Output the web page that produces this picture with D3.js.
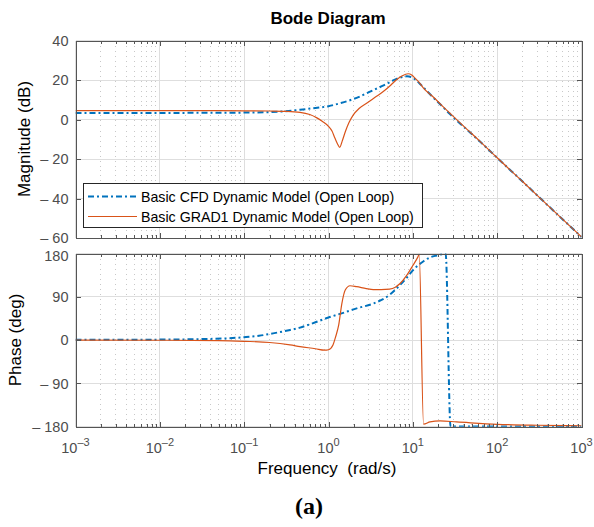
<!DOCTYPE html>
<html>
<head>
<meta charset="utf-8">
<script src="https://cdn.jsdelivr.net/npm/d3@7"></script>
<style>
  html, body { margin: 0; padding: 0; background: #fff; }
  svg { display: block; }
  text { font-family: "Liberation Sans", Arial, Helvetica, sans-serif; }
  text.serif { font-family: "Liberation Serif", "DejaVu Serif", serif; }
</style>
</head>
<body>
<svg id="chart" width="594" height="527"></svg>
<script>
// ---------------- data ----------------
const seriesNames = ["Basic CFD Dynamic Model (Open Loop)", "Basic GRAD1 Dynamic Model (Open Loop)"];

const magFreqCFD = [0.001, 0.01, 0.05, 0.1, 0.2, 0.3, 0.46, 0.7, 1, 1.4, 1.8, 2.3, 2.86, 3.6, 4.5, 5.5, 6.4, 7.5, 8.5, 9.7, 11, 12.2, 14, 17.6, 22, 27.6, 43.6, 63, 100, 200, 500, 1000];
const magCFD     = [3.4, 3.4, 3.45, 3.55, 3.8, 4.2, 5.0, 5.9, 6.8, 8.4, 9.8, 11.5, 13.4, 15.4, 17.3, 19.2, 20.6, 21.5, 21.9, 21.4, 19.9, 18.0, 15.4, 11.0, 7.0, 2.8, -5.0, -11.2, -19.3, -31.3, -47.3, -59.3];

const magFreqGRAD = [0.001, 0.01, 0.05, 0.1, 0.2, 0.3, 0.46, 0.6, 0.72, 0.85, 1, 1.1, 1.19, 1.28, 1.36, 1.45, 1.59, 1.75, 1.96, 2.3, 2.86, 3.6, 4.5, 5.5, 6.4, 7.5, 8.8, 9.7, 10.6, 12, 13.3, 17.6, 22, 27.6, 43.6, 63, 100, 200, 500, 1000];
const magGRAD     = [4.5, 4.5, 4.5, 4.45, 4.35, 4.2, 3.7, 2.6, 1.0, -1.0, -3.4, -5.8, -9.3, -12.3, -14.0, -11.0, -5.9, -1.5, 2.3, 5.6, 8.4, 11.4, 14.3, 17.5, 20.2, 22.2, 23.2, 22.6, 21.0, 18.6, 16.0, 11.3, 7.2, 3.2, -4.8, -11.1, -19.3, -31.3, -47.3, -59.3];

const phFreqCFD = [0.001, 0.01, 0.03, 0.06, 0.1, 0.15, 0.22, 0.35, 0.46, 0.7, 1, 1.4, 2.16, 3.4, 5.3, 7, 8.5, 10, 13.4, 16, 19.2, 22, 24.5, 28, 50, 100, 300, 1000];
const phCFD     = [0.5, 1, 2, 3.5, 6, 9, 14, 21, 26, 37, 47, 55, 66, 76, 94, 114, 130, 145, 164, 172, 176, 178.5, 179.5, -179.5, -179.6, -179.7, -179.8, -179.9];

const phFreqGRAD = [0.001, 0.01, 0.05, 0.1, 0.2, 0.35, 0.46, 0.7, 0.9, 1.0, 1.13, 1.22, 1.32, 1.44, 1.58, 1.8, 2.16, 2.8, 3.4, 4.2, 5.3, 6.2, 7, 8.5, 10, 11.5, 11.9, 13.4, 16, 21, 33, 100, 300, 1000];
const phGRAD     = [0, -0.3, -1, -2.5, -5, -10, -13.5, -18, -21, -20, -10, 8, 31, 76, 104, 113, 111, 107, 105, 105, 106, 110, 117, 135, 155, 173, 178.5, -174.5, -170, -168, -170, -175, -177, -178];

const xTickExps  = [-3, -2, -1, 0, 1, 2, 3];
const magTicks   = [40, 20, 0, -20, -40, -60];
const phaseTicks = [180, 90, 0, -90, -180];

const titleText = "Bode Diagram";
const magLabel = "Magnitude (dB)";
const phaseLabel = "Phase (deg)";
const xLabel = "Frequency\u00A0 (rad/s)";
const panelLabel = "(a)";

// ---------------- layout ----------------
const colors = ["#0072BD", "#D95319"];
const L = 75.5, R = 581.5;
const magTop = 40.5, magBot = 238.3;
const phTop = 253.5, phBot = 426.7;

const svg = d3.select("#chart");
const x = d3.scaleLog().domain([1e-3, 1e3]).range([L, R]);
const yMag = d3.scaleLinear().domain([-60, 40]).range([magBot, magTop]);
const yPh = d3.scaleLinear().domain([-180, 180]).range([phBot, phTop]);

const minorVals = [];
xTickExps.slice(0, -1).forEach(e => { for (let k = 2; k <= 9; k++) minorVals.push(k * Math.pow(10, e)); });
const majorVals = xTickExps.map(e => Math.pow(10, e));

function fmtY(v) { return v < 0 ? "\u2013 " + Math.abs(v) : String(v); }

function panel(id, y, ticks, top, bot) {
  const g = svg.append("g");
  svg.append("clipPath").attr("id", id).append("rect")
    .attr("x", L).attr("y", top).attr("width", R - L).attr("height", bot - top);
  g.selectAll(".mg").data(minorVals).enter().append("line")
    .attr("x1", d => x(d)).attr("x2", d => x(d)).attr("y1", top).attr("y2", bot)
    .attr("stroke", "#c8c8c8").attr("stroke-width", 1).attr("stroke-dasharray", "1,4")
    .attr("shape-rendering", "crispEdges");
  g.selectAll(".Mg").data(majorVals).enter().append("line")
    .attr("x1", d => x(d)).attr("x2", d => x(d)).attr("y1", top).attr("y2", bot)
    .attr("stroke", "#dedede").attr("stroke-width", 1).attr("shape-rendering", "crispEdges");
  g.selectAll(".hg").data(ticks).enter().append("line")
    .attr("x1", L).attr("x2", R).attr("y1", d => y(d)).attr("y2", d => y(d))
    .attr("stroke", "#dedede").attr("stroke-width", 1).attr("shape-rendering", "crispEdges");
  return g;
}

function frame(y, ticks, top, bot, labelShift) {
  const g = svg.append("g");
  const axCol = "#555555";
  const axB = d3.axisBottom(x).tickValues(majorVals).tickSize(-5).tickFormat("");
  const axT = d3.axisTop(x).tickValues(majorVals).tickSize(-5).tickFormat("");
  const axBm = d3.axisBottom(x).tickValues(minorVals).tickSize(-3).tickFormat("");
  const axTm = d3.axisTop(x).tickValues(minorVals).tickSize(-3).tickFormat("");
  const axL = d3.axisLeft(y).tickValues(ticks).tickSize(-5).tickFormat("");
  const axR = d3.axisRight(y).tickValues(ticks).tickSize(-5).tickFormat("");
  [[axB, `translate(0,${bot})`], [axBm, `translate(0,${bot})`], [axT, `translate(0,${top})`], [axTm, `translate(0,${top})`],
   [axL, `translate(${L},0)`], [axR, `translate(${R},0)`]].forEach(([a, t]) => {
    const gg = g.append("g").attr("transform", t).call(a);
    gg.selectAll("path").attr("stroke", axCol).attr("shape-rendering", "crispEdges");
    gg.selectAll("line").attr("stroke", axCol).attr("shape-rendering", "crispEdges");
  });
  g.selectAll(".yl").data(ticks).enter().append("text")
    .attr("x", L - 7).attr("y", d => y(d) + (labelShift ? labelShift(d) : 0)).attr("dy", "0.36em")
    .attr("text-anchor", "end").attr("font-size", 14.5).attr("fill", "#4d4d4d")
    .text(fmtY);
}

function drawLine(clip, xs, ys, y, color, width, dash) {
  const pts = xs.map((f, i) => [f, ys[i]]);
  const line = d3.line().x(d => x(d[0])).y(d => y(d[1])).curve(d3.curveMonotoneX);
  svg.append("path").datum(pts)
    .attr("clip-path", `url(#${clip})`)
    .attr("d", line).attr("fill", "none")
    .attr("stroke", color).attr("stroke-width", width)
    .attr("stroke-dasharray", dash || null)
    .attr("stroke-linejoin", "round");
}

// magnitude panel
panel("clipMag", yMag, magTicks, magTop, magBot);
drawLine("clipMag", magFreqCFD, magCFD, yMag, colors[0], 2, "6,3,2,3");
drawLine("clipMag", magFreqGRAD, magGRAD, yMag, colors[1], 1.2);
frame(yMag, magTicks, magTop, magBot, d => (d === -60 ? -1 : 0));

// phase panel
panel("clipPh", yPh, phaseTicks, phTop, phBot);
drawLine("clipPh", phFreqCFD, phCFD, yPh, colors[0], 2, "6,3,2,3");
drawLine("clipPh", phFreqGRAD, phGRAD, yPh, colors[1], 1.2);
frame(yPh, phaseTicks, phTop, phBot, d => (d === 180 ? 2 : 0));

// x tick labels (10^n)
const xl = svg.append("g");
xTickExps.forEach(e => {
  const t = xl.append("text").attr("x", x(Math.pow(10, e))).attr("y", 453)
    .attr("text-anchor", "middle").attr("font-size", 14.5).attr("fill", "#4d4d4d");
  t.append("tspan").text("10");
  t.append("tspan").attr("dy", -7).attr("font-size", 11).text(e < 0 ? "\u2013" + Math.abs(e) : String(e));
});

// legend
const lg = svg.append("g");
lg.append("rect").attr("x", 83.5).attr("y", 183.5).attr("width", 339).attr("height", 44)
  .attr("fill", "#fff").attr("stroke", "#262626").attr("stroke-width", 1);
seriesNames.forEach((name, i) => {
  const yy = 196.5 + i * 20;
  lg.append("line").attr("x1", 88).attr("x2", 137).attr("y1", yy).attr("y2", yy)
    .attr("stroke", colors[i]).attr("stroke-width", i === 0 ? 2 : 1.2)
    .attr("stroke-dasharray", i === 0 ? "6,3,2,3" : null);
  lg.append("text").attr("x", 141).attr("y", yy).attr("dy", "0.36em")
    .attr("font-size", 14.2).attr("fill", "#000").text(name);
});

// titles and labels
svg.append("text").attr("x", 328).attr("y", 24).attr("text-anchor", "middle")
  .attr("font-size", 17).attr("font-weight", "bold").attr("fill", "#000").text(titleText);
svg.append("text").attr("transform", `translate(30,139) rotate(-90)`).attr("text-anchor", "middle")
  .attr("font-size", 17).attr("fill", "#000").text(magLabel);
svg.append("text").attr("transform", `translate(21,340) rotate(-90)`).attr("text-anchor", "middle")
  .attr("font-size", 17).attr("fill", "#000").text(phaseLabel);
svg.append("text").attr("x", 327).attr("y", 474).attr("text-anchor", "middle")
  .attr("font-size", 17).attr("fill", "#000").text(xLabel);
svg.append("text").attr("class", "serif").attr("x", 309).attr("y", 514).attr("text-anchor", "middle")
  .attr("font-size", 24).attr("font-weight", "bold").attr("fill", "#000").text(panelLabel);
</script>
</body>
</html>
